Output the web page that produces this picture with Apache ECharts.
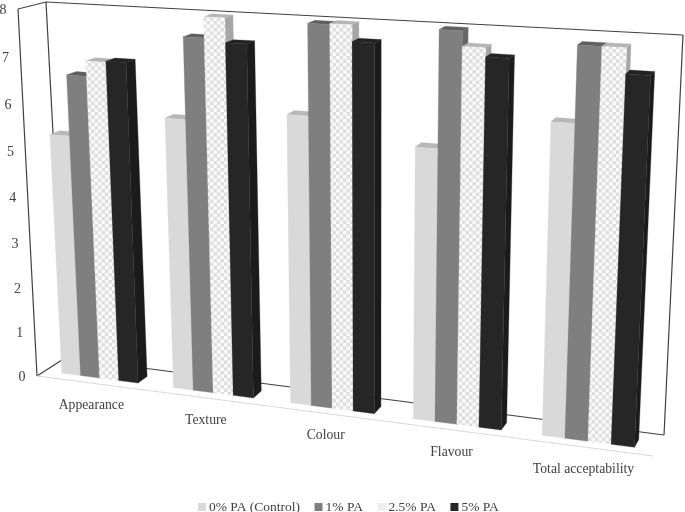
<!DOCTYPE html>
<html><head><meta charset="utf-8">
<style>html,body{margin:0;padding:0;background:#fff}#c{width:685px;height:512px}</style>
<script src="https://cdn.jsdelivr.net/npm/echarts@6/dist/echarts.min.js"></script>
</head><body><div id="c"></div>
<script>
const categories = ['Appearance','Texture','Colour','Flavour','Total acceptability'];
const seriesNames = ['0% PA (Control)','1% PA','2.5% PA','5% PA'];
const control = [5.33,5.87,6.13,5.67,6.36];
const pa1 = [6.63,7.57,7.98,8.0,7.85];
const pa25 = [6.95,8.0,8.0,7.7,7.85];
const pa5 = [6.97,7.5,7.67,7.52,7.36];
const ticks = [0,1,2,3,4,5,6,7,8];

const values = [control,pa1,pa25,pa5];
const FRONT = [[37,376],[653,456],[672,45],[18,9]];
const BACK  = [[65,358],[664,435],[683,35],[46,2]];
const D0=0.28, D1=0.64, START=0.155, BAR=0.172;
const TEXT='#404040', FONT='"Liberation Serif"';

function homography(q){
  const [x0,y0]=q[0],[x1,y1]=q[1],[x2,y2]=q[2],[x3,y3]=q[3];
  const dx1=x1-x2,dx2=x3-x2,sx=x0-x1+x2-x3,dy1=y1-y2,dy2=y3-y2,sy=y0-y1+y2-y3;
  const den=dx1*dy2-dx2*dy1, g=(sx*dy2-dx2*sy)/den, h=(dx1*sy-sx*dy1)/den;
  const a=x1-x0+g*x1,b=x3-x0+h*x3,d=y1-y0+g*y1,e=y3-y0+h*y3;
  return (u,v)=>{const w=g*u+h*v+1;return [(a*u+b*v+x0)/w,(d*u+e*v+y0)/w];};
}
const Hf=homography(FRONT),Hb=homography(BACK);
function P(s,t,d){const f=Hf(s,t),b=Hb(s,t);return [f[0]+(b[0]-f[0])*d,f[1]+(b[1]-f[1])*d];}

// Axis value -> unit cube, through the library's own scales
function project(api,x,v,d){
  const o=api.coord([0,0]),e=api.coord([categories.length,8]),p=api.coord([x,v]);
  return P((p[0]-o[0])/(e[0]-o[0]),(p[1]-o[1])/(e[1]-o[1]),d);
}
function poly(points,fill){return {type:'polygon',shape:{points},style:{fill,stroke:fill,lineWidth:0.3}};}

const tile=document.createElement('canvas');tile.width=tile.height=7;
(function(){const g=tile.getContext('2d');g.fillStyle='#dedede';g.fillRect(0,0,7,7);
 g.fillStyle='#fbfbfb';[[1.75,1.75],[5.25,5.25]].forEach(([x,y])=>{g.beginPath();g.arc(x,y,2.1,0,7);g.fill();});})();

const faces=[
 {front:'#d9d9d9',side:'#bdbdbd',top:'#b8b8b8',legend:'#d9d9d9'},
 {front:'#7f7f7f',side:'#666666',top:'#5f5f5f',legend:'#7f7f7f'},
 {front:{image:tile,repeat:'repeat'},side:'#a6a6a6',top:'#b5b5b5',legend:'#eeeeee'},
 {front:'#262626',side:'#1b1b1b',top:'#222222',legend:'#262626'}];

const barSeries=seriesNames.map((name,i)=>({
  type:'custom',name,coordinateSystem:'cartesian2d',clip:false,
  itemStyle:{color:faces[i].legend},
  data:values[i].map((v,c)=>[c,v]),
  renderItem(params,api){
    const c=api.value(0),v=api.value(1),x0=c+START+i*BAR,x1=x0+BAR;
    const a=project(api,x0,0,D0),b=project(api,x1,0,D0),e=project(api,x1,v,D0),f=project(api,x0,v,D0);
    const b2=project(api,x1,0,D1),e2=project(api,x1,v,D1),f2=project(api,x0,v,D1);
    return {type:'group',children:[
      poly([b,b2,e2,e],faces[i].side),
      poly([f,e,e2,f2],faces[i].top),
      poly([a,b,e,f],faces[i].front)]};
  }
}));

const edges=[
 [[0,0,0],[0,1,0],'#404040'],[[0,1,0],[0,1,1],'#404040'],[[0,0,0],[0,0,1],'#404040'],
 [[0,0,1],[0,1,1],'#404040'],[[0,1,1],[1,1,1],'#404040'],[[1,1,1],[1,0,1],'#404040'],
 [[1,0,1],[0,0,1],'#404040'],[[0,0,0],[1,0,0],'#d9d9d9']];
const wallSeries={type:'custom',name:'walls',clip:false,silent:true,z:1,data:edges.map((e,i)=>[i,0]),
  renderItem(params,api){
    const [m,n,col]=edges[api.value(0)];
    const p=P(m[0],m[1],m[2]),q=P(n[0],n[1],n[2]);
    return {type:'line',shape:{x1:p[0],y1:p[1],x2:q[0],y2:q[1]},style:{stroke:col,lineWidth:1.2,fill:null}};
  }};
const tickSeries={type:'custom',name:'ticks',clip:false,silent:true,z:5,data:ticks.map(t=>[0,t]),
  renderItem(params,api){
    const v=api.value(1),p=project(api,0,v,0);
    return {type:'text',style:{x:p[0]-15,y:p[1]+1,text:String(v),fill:TEXT,font:'14px '+FONT,align:'center',verticalAlign:'middle'}};
  }};
const catSeries={type:'custom',name:'cats',clip:false,silent:true,z:5,data:categories.map((n,i)=>[i,0]),
  renderItem(params,api){
    const c=api.value(0),p=project(api,c+0.5,0,0);
    return {type:'text',style:{x:p[0]-1,y:p[1]+22,text:categories[c],fill:TEXT,font:'13.7px '+FONT,align:'center',verticalAlign:'middle'}};
  }};

const chart=echarts.init(document.getElementById('c'),null,{renderer:'canvas'});
chart.setOption({
  animation:false,backgroundColor:'#fff',
  grid:{left:100,right:100,top:60,bottom:60},
  xAxis:{type:'value',min:0,max:categories.length,show:false},
  yAxis:{type:'value',min:0,max:8,interval:1,show:false},
  legend:{data:seriesNames,left:193,top:495,itemWidth:8,itemHeight:8,itemGap:14.5,icon:'rect',
    textStyle:{fontFamily:FONT,fontSize:13.5,color:TEXT,padding:[0,0,0,-2]}},
  series:[wallSeries,...barSeries,tickSeries,catSeries]
});
</script></body></html>
